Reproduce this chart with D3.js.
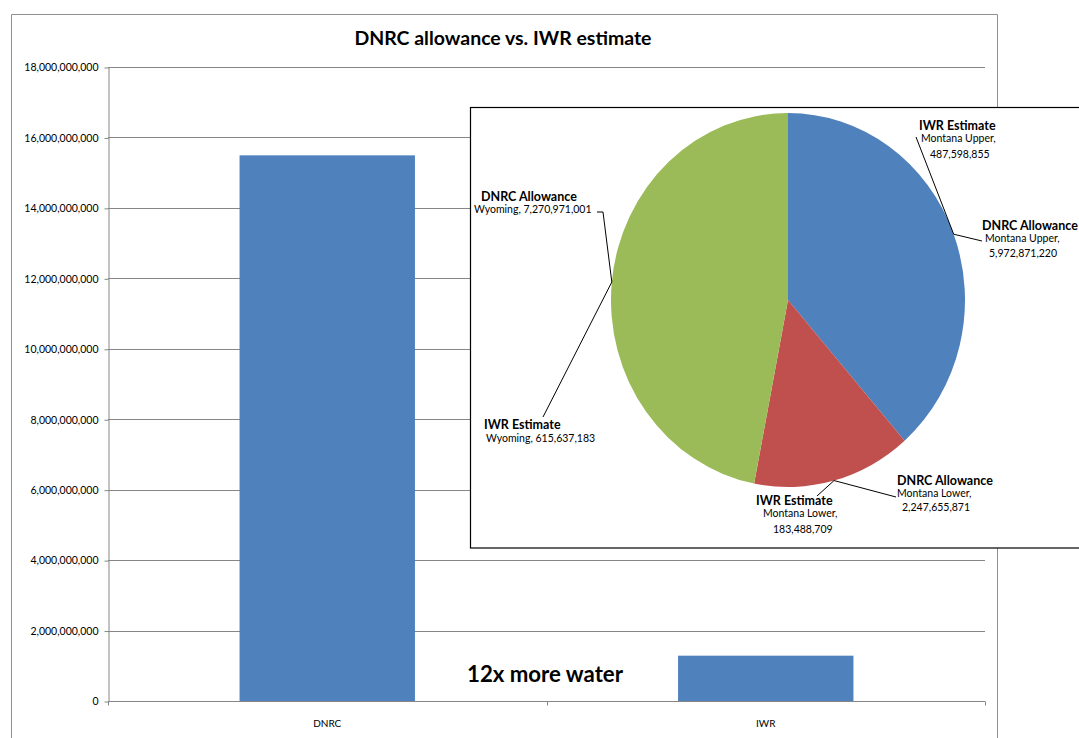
<!DOCTYPE html>
<html><head><meta charset="utf-8">
<script src="https://cdn.jsdelivr.net/npm/d3@7"></script>
<style>
html,body{margin:0;padding:0;background:#fff;overflow:hidden}
text{font-family:Lato,"Open Sans",sans-serif}
</style></head>
<body><svg id="c" width="1079" height="738"></svg>
<script>
// ---- data ----
const categories = ["DNRC", "IWR"];
const regions = ["Montana Upper", "Montana Lower", "Wyoming"];
const dnrcValues = [5972871220, 2247655871, 7270971001];
const iwrValues = [487598855, 183488709, 615637183];
const yTicks = [0, 2e9, 4e9, 6e9, 8e9, 10e9, 12e9, 14e9, 16e9, 18e9];
const barValues = [d3.sum(dnrcValues), d3.sum(iwrValues)];
const sliceColors = ["#4F81BD", "#C0504D", "#9BBB59"];
const titleText = "DNRC allowance vs. IWR estimate";
const noteText = "12x more water";

(function () {
const svg = d3.select("#c");
const fmt = d3.format(",");

// outer chart frame
svg.append("path").attr("d", "M11.5,740 V14.5 H997.5 V740")
  .attr("fill", "none").attr("stroke", "#8f8f8f").attr("stroke-width", 1);

// title
svg.append("text").attr("x", 503).attr("y", 45).attr("text-anchor", "middle")
  .attr("font-size", 19).attr("font-weight", "bold").attr("fill", "#000")
  .attr("textLength", 297).attr("lengthAdjust", "spacingAndGlyphs").text(titleText);

// scales
const pL = 108, pR = 985, pT = 67, pB = 701;
const y = d3.scaleLinear().domain([0, 18e9]).range([pB, pT]);
const x = d3.scaleBand().domain(categories).range([pL, pR]).paddingInner(0.6).paddingOuter(0.3);

// gridlines
svg.append("g").selectAll("line").data(yTicks.filter(d => d > 0)).join("line")
  .attr("x1", pL).attr("x2", pR)
  .attr("y1", d => Math.round(y(d)) + 0.5).attr("y2", d => Math.round(y(d)) + 0.5)
  .attr("stroke", "#868686").attr("stroke-width", 1);

// y axis
const yAxis = svg.append("g").attr("transform", `translate(${pL + 0.5},0.5)`)
  .call(d3.axisLeft(y).tickValues(yTicks).tickFormat(fmt).tickSize(4).tickSizeOuter(0).tickPadding(6));
yAxis.select(".domain").attr("stroke", "#868686");
yAxis.selectAll(".tick line").attr("stroke", "#868686");
yAxis.selectAll(".tick text").attr("font-family", "Lato, sans-serif").attr("font-size", 10.5).attr("fill", "#000");

// bars
svg.append("g").selectAll("rect").data(categories).join("rect")
  .attr("x", d => x(d)).attr("width", x.bandwidth())
  .attr("y", (d, i) => y(barValues[i])).attr("height", (d, i) => pB - y(barValues[i]))
  .attr("fill", "#4F81BD");

// x axis
const xg = svg.append("g").attr("transform", `translate(0,${pB + 0.5})`);
xg.append("line").attr("x1", pL).attr("x2", pR).attr("stroke", "#868686");
const mid = (x("DNRC") + x.bandwidth() + x("IWR")) / 2;
[pL, mid, pR].forEach(b => xg.append("line").attr("x1", Math.round(b) + 0.5).attr("x2", Math.round(b) + 0.5)
  .attr("y1", 0).attr("y2", 4).attr("stroke", "#868686"));
xg.selectAll("text.cat").data(categories).join("text").attr("class", "cat")
  .attr("x", d => x(d) + x.bandwidth() / 2).attr("y", 25).attr("text-anchor", "middle")
  .attr("font-size", 10).attr("fill", "#000")
  .text(d => d);

// note
svg.append("text").attr("x", 545).attr("y", 682).attr("text-anchor", "middle")
  .attr("font-size", 22).attr("font-weight", "bold").attr("fill", "#000")
  .attr("textLength", 156).attr("lengthAdjust", "spacingAndGlyphs").text(noteText);

// ---- inset pie ----
svg.append("rect").attr("x", 470.5).attr("y", 107.5).attr("width", 700).attr("height", 440.5)
  .attr("fill", "#fff").attr("stroke", "#000").attr("stroke-width", 1.2);

const cx = 788, cy = 300, rx = 177, ry = 187;
const pie = d3.pie().sort(null).value(d => d);
const arcs = pie(dnrcValues);
const arc = d3.arc().innerRadius(0).outerRadius(ry);
svg.append("g").attr("transform", `translate(${cx},${cy}) scale(${rx / ry},1)`)
  .selectAll("path").data(arcs).join("path")
  .attr("d", arc).attr("fill", (d, i) => sliceColors[i]);

function edgePoint(a) {
  const ang = (a.startAngle + a.endAngle) / 2;
  return [cx + rx * Math.sin(ang), cy - ry * Math.cos(ang)];
}

const labelLayout = [
  {series: "IWR Estimate", i: 0, vals: iwrValues, x: 919, y: 130, lines: [[921, 142, "Montana Upper,"], [930, 158, null]], leader: [[916, 137]]},
  {series: "DNRC Allowance", i: 0, vals: dnrcValues, x: 982, y: 230, lines: [[985, 242, "Montana Upper,"], [989, 257, null]], leader: [[982, 241]]},
  {series: "DNRC Allowance", i: 2, vals: dnrcValues, x: 481, y: 201, lines: [[474, 213, "Wyoming, #"]], leader: [[597, 212], [603, 212]]},
  {series: "IWR Estimate", i: 2, vals: iwrValues, x: 484, y: 429, lines: [[486, 442, "Wyoming, #"]], leader: [[543, 417]]},
  {series: "IWR Estimate", i: 1, vals: iwrValues, x: 756, y: 505, lines: [[763, 517, "Montana Lower,"], [773, 533, null]], leader: [[817, 496]]},
  {series: "DNRC Allowance", i: 1, vals: dnrcValues, x: 897, y: 485, lines: [[897, 497, "Montana Lower,"], [902, 511, null]], leader: [[896, 497]]}
];

const lg = svg.append("g");
labelLayout.forEach(L => {
  const p = edgePoint(arcs[L.i]);
  const pts = L.leader.slice().concat([p]);
  lg.append("path").attr("d", d3.line()(pts)).attr("fill", "none").attr("stroke", "#000").attr("stroke-width", 1);
  lg.append("text").attr("x", L.x).attr("y", L.y).attr("font-size", 12.5).attr("font-weight", "bold")
    .attr("fill", "#000").text(L.series);
  L.lines.forEach(([lx, ly, t]) => {
    const s = t === null ? fmt(L.vals[L.i]) : t.replace("#", fmt(L.vals[L.i]));
    lg.append("text").attr("x", lx).attr("y", ly).attr("font-size", 10.5).attr("fill", "#000").text(s);
  });
});
})();
</script></body></html>
